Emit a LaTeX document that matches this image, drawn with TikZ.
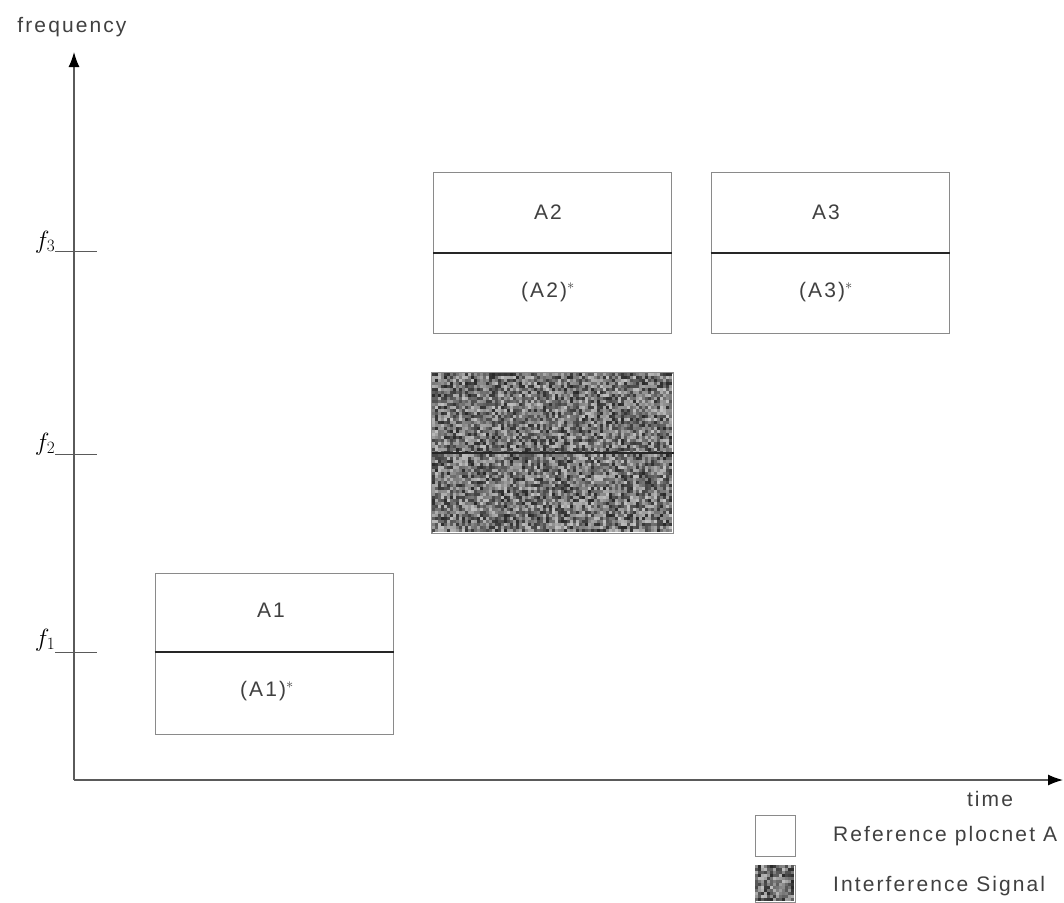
\documentclass[tikz,border=0pt]{standalone}
\usepackage{fontspec}
\setmainfont{Liberation Sans}
\newfontfamily\lblfont[LetterSpace=10]{Liberation Sans}
\usetikzlibrary{arrows.meta}
\definecolor{axisgray}{HTML}{5A5A5A}
\definecolor{boxgray}{HTML}{8A8A8A}
\definecolor{noisegray}{HTML}{8C8C8C}
\tikzset{
  lbl/.style={font=\lblfont\fontsize{21}{24}\selectfont, text=black!75, inner sep=0pt},
  flbl/.style={font=\fontsize{24}{26}\selectfont, inner sep=0pt},
  axisline/.style={draw=axisgray, line width=1.3pt, -{Latex[length=15pt,width=11pt,color=black]}},
  tickline/.style={draw=axisgray, line width=1pt},
  plocbox/.style={draw=boxgray, line width=1pt, fill=white, minimum width=238pt, minimum height=161pt, inner sep=0pt},
  noisebox/.style={draw=noisegray, line width=1pt, minimum width=241pt, minimum height=160pt, inner sep=0pt},
  divider/.style={draw=black!85, line width=1.8pt},
  legbox/.style={draw=boxgray, line width=1pt, minimum width=40pt, minimum height=41pt, inner sep=0pt, anchor=north west}
}
\begin{document}
\begin{tikzpicture}[x=1pt,y=-1pt]
\useasboundingbox (0,0) rectangle (1064,902);
\pgfmathsetseed{7}
% axes
\coordinate (O) at (74,780);
\coordinate (ytop) at (74,52);
\coordinate (xend) at (1063,780);
\draw[axisline] (O) -- (ytop);
\draw[axisline] (O) -- (xend);
\node[lbl] (freq) at (72,27) {frequency};
\node[lbl] (time) at (990,799) {time};
% ticks
\coordinate (t3a) at (55,251); \coordinate (t3b) at (97,251);
\coordinate (t2a) at (55,454); \coordinate (t2b) at (97,454);
\coordinate (t1a) at (55,652); \coordinate (t1b) at (97,652);
\draw[tickline] (t3a) -- (t3b);
\draw[tickline] (t2a) -- (t2b);
\draw[tickline] (t1a) -- (t1b);
\node[flbl] (f3) at (45,242) {$f_3$};
\node[flbl] (f2) at (45,444) {$f_2$};
\node[flbl] (f1) at (45,640) {$f_1$};
% boxes
\node[plocbox] (A1) at (274,654) {};
\draw[divider] (A1.west |- 0,652) -- (A1.east |- 0,652);
\node[lbl] (A1t) at (271,610) {A1};
\node[lbl] (A1s) at (267,691) {(A1)$^{*}$};
\node[plocbox] (A2) at (552.5,253) {};
\draw[divider] (A2.west) -- (A2.east);
\node[lbl] (A2t) at (548,212) {A2};
\node[lbl] (A2s) at (548,292) {(A2)$^{*}$};
\node[plocbox] (A3) at (830,253) {};
\draw[divider] (A3.west) -- (A3.east);
\node[lbl] (A3t) at (826,212) {A3};
\node[lbl] (A3s) at (826,292) {(A3)$^{*}$};
% interference block with noise texture
\node[noisebox] (IS) at (552.5,453) {};
\foreach \i in {0,...,79}{
  \foreach \j in {0,...,52}{
    \pgfmathsetmacro{\shade}{int(25+60*rnd)}
    \fill[black!\shade] (432+3*\i,373+3*\j) rectangle ++(3.05,3.05);
  }
}
\draw[noisegray, line width=1pt] (IS.north west) rectangle (IS.south east);
\draw[divider, line width=2.5pt] (IS.west) -- (IS.east);
% legend
\node[legbox, fill=white] (L1) at (755,815) {};
\node[legbox, draw=noisegray, minimum height=37pt] (L2) at (755,865) {};
\foreach \i in {0,...,12}{
  \foreach \j in {0,...,11}{
    \pgfmathsetmacro{\shade}{int(25+60*rnd)}
    \fill[black!\shade] (755+3*\i,865+3*\j) rectangle ++(3.05,3.05);
  }
}
\node[lbl, anchor=west] (L1t) at (833,836) {Reference plocnet A};
\node[lbl, anchor=west] (L2t) at (833,886) {Interference Signal};
\end{tikzpicture}
\end{document}
